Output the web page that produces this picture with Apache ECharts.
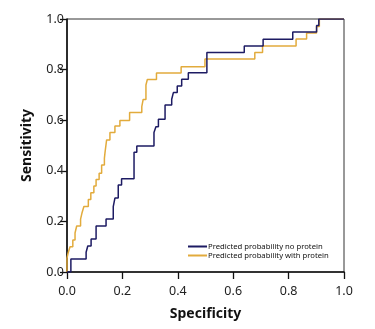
<!DOCTYPE html>
<html>
<head>
<meta charset="utf-8">
<script src="https://cdn.jsdelivr.net/npm/echarts@6/dist/echarts.min.js"></script>
<style>
html,body{margin:0;padding:0;background:#fff;}
#c{width:375px;height:329px;}
</style>
</head>
<body>
<div id="c"></div>
<script>
// Blue: predicted probability no protein (x = 1 - specificity axis value, y = sensitivity)
var noProteinX = [0, 0.014, 0.069, 0.075, 0.087, 0.105, 0.141, 0.167, 0.173, 0.185, 0.197, 0.242, 0.252, 0.314, 0.321, 0.330, 0.354, 0.378, 0.384, 0.398, 0.414, 0.438, 0.505, 0.640, 0.708, 0.815, 0.901, 0.909, 1.0];
var noProteinY = [0, 0.051, 0.078, 0.103, 0.130, 0.182, 0.209, 0.258, 0.292, 0.344, 0.369, 0.473, 0.498, 0.551, 0.574, 0.604, 0.660, 0.683, 0.709, 0.735, 0.762, 0.788, 0.868, 0.893, 0.920, 0.949, 0.974, 1.0, 1.0];
// Gold: predicted probability with protein
var withProteinX = [0, 0, 0.004, 0.011, 0.021, 0.029, 0.035, 0.049, 0.054, 0.061, 0.077, 0.086, 0.097, 0.105, 0.116, 0.125, 0.135, 0.137, 0.143, 0.155, 0.173, 0.191, 0.226, 0.270, 0.275, 0.285, 0.290, 0.323, 0.412, 0.498, 0.678, 0.706, 0.827, 0.865, 0.901, 0.911, 1.0];
var withProteinY = [0, 0.055, 0.075, 0.100, 0.126, 0.154, 0.182, 0.209, 0.233, 0.259, 0.287, 0.313, 0.340, 0.366, 0.390, 0.423, 0.449, 0.470, 0.522, 0.551, 0.577, 0.599, 0.630, 0.654, 0.682, 0.739, 0.761, 0.787, 0.811, 0.842, 0.868, 0.893, 0.921, 0.945, 0.970, 1.0, 1.0];
var tickLabels = ['0.0', '0.2', '0.4', '0.6', '0.8', '1.0'];
var seriesNames = ['Predicted probability no protein', 'Predicted probability with protein'];

function zip(xs, ys) { return xs.map(function (x, i) { return [x, ys[i]]; }); }
function fmt(v) { return tickLabels[Math.round(v * 5)]; }

var chart = echarts.init(document.getElementById('c'), null, { renderer: 'canvas' });
var axisCommon = {
  type: 'value', min: 0, max: 1, interval: 0.2,
  nameLocation: 'middle',
  nameTextStyle: { fontFamily: 'Noto Sans', fontWeight: 'bold', fontSize: 14, color: '#111' },
  axisLine: { show: true, onZero: false, lineStyle: { color: '#111', width: 1.6 } },
  axisTick: { show: true, inside: false, length: 7, lineStyle: { color: '#111', width: 1.3 } },
  axisLabel: { fontFamily: 'Noto Sans', fontSize: 12.5, color: '#222', formatter: fmt },
  splitLine: { show: false }
};
chart.setOption({
  animation: false,
  backgroundColor: '#fff',
  grid: { left: 67, right: 31, top: 19, bottom: 57, show: true, borderColor: '#333', borderWidth: 1, backgroundColor: 'transparent' },
  xAxis: Object.assign({}, axisCommon, { name: 'Specificity', nameGap: 35, axisLabel: Object.assign({}, axisCommon.axisLabel, { margin: 13 }) }),
  yAxis: Object.assign({}, axisCommon, { name: 'Sensitivity', nameGap: 33, axisLabel: Object.assign({}, axisCommon.axisLabel, { margin: 3 }) }),
  legend: {
    orient: 'vertical', left: 183, top: 237.5, itemGap: 1,
    icon: 'rect', itemWidth: 19, itemHeight: 2,
    textStyle: { fontFamily: 'Noto Sans', fontSize: 7.7, color: '#111', padding: [0, 0, 0, -4] },
    data: seriesNames
  },
  series: [
    { name: seriesNames[1], type: 'line', step: 'end', showSymbol: false, symbol: 'none',
      data: zip(withProteinX, withProteinY), lineStyle: { color: '#e2ab3c', width: 1.5 }, itemStyle: { color: '#e2ab3c' } },
    { name: seriesNames[0], type: 'line', step: 'end', showSymbol: false, symbol: 'none',
      data: zip(noProteinX, noProteinY), lineStyle: { color: '#1d1b63', width: 1.5 }, itemStyle: { color: '#1d1b63' } }
  ]
});
</script>
</body>
</html>
